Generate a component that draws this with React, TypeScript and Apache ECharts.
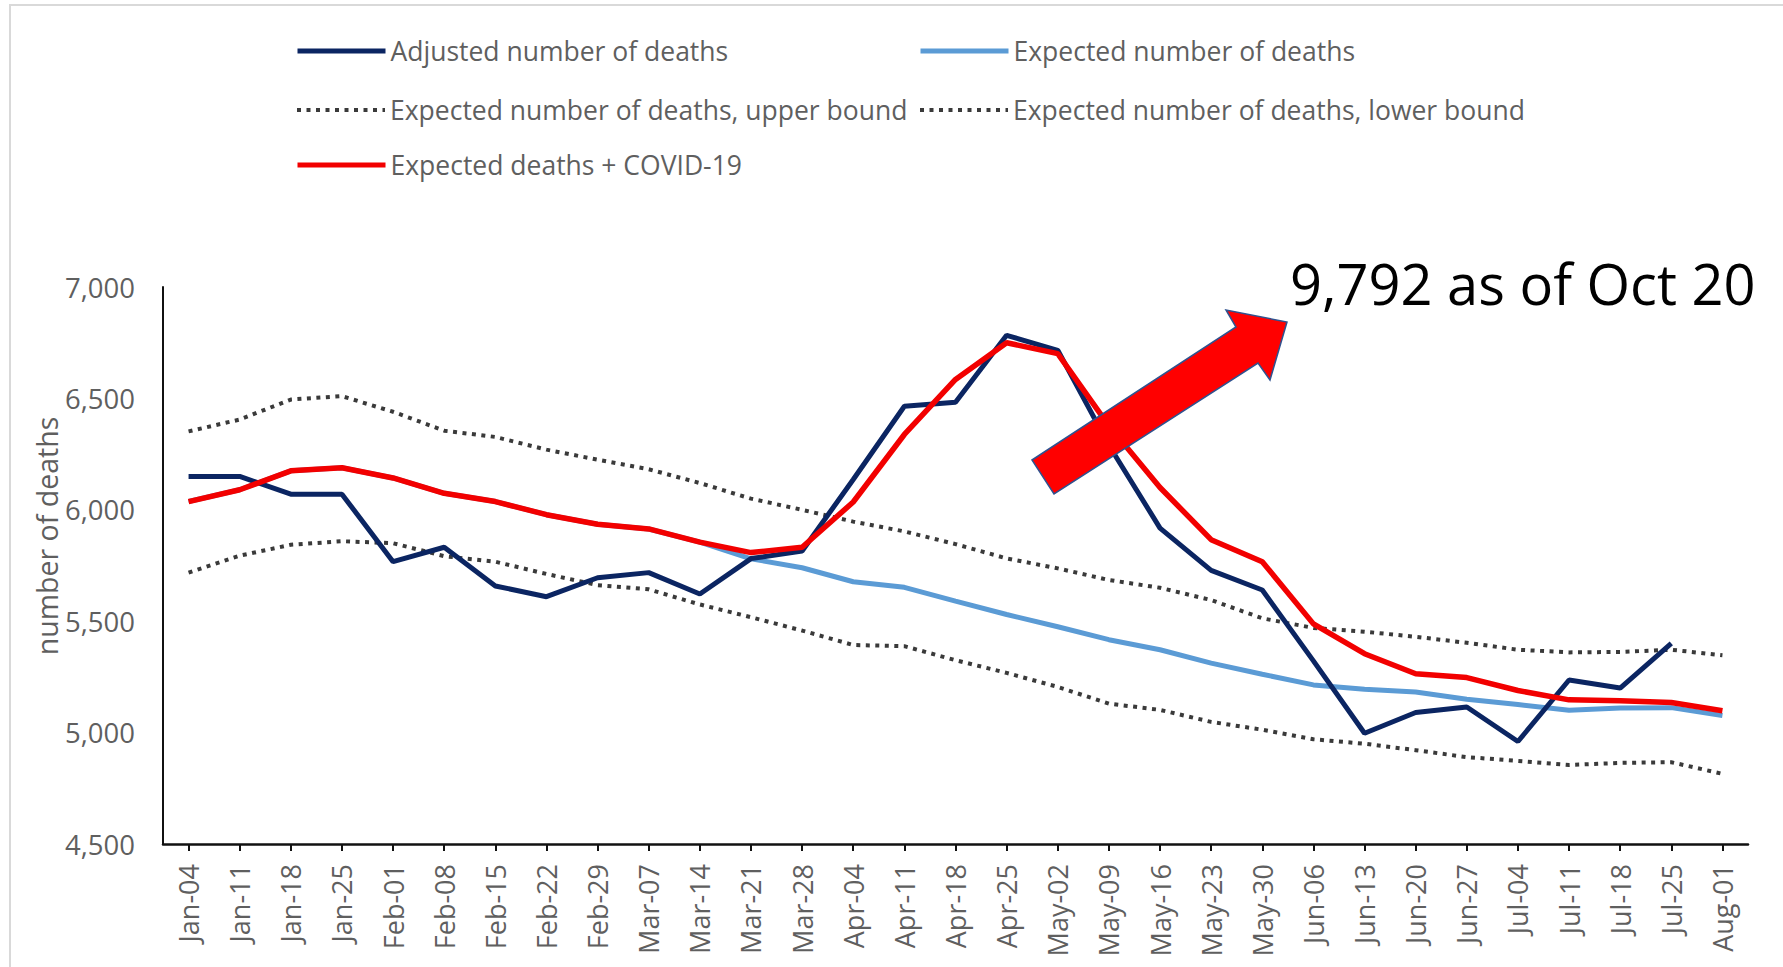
import React, { useEffect, useRef } from 'react';
import * as echarts from 'echarts';

const weeks = [
  'Jan-04', 'Jan-11', 'Jan-18', 'Jan-25', 'Feb-01', 'Feb-08', 'Feb-15', 'Feb-22', 'Feb-29',
  'Mar-07', 'Mar-14', 'Mar-21', 'Mar-28', 'Apr-04', 'Apr-11', 'Apr-18', 'Apr-25', 'May-02',
  'May-09', 'May-16', 'May-23', 'May-30', 'Jun-06', 'Jun-13', 'Jun-20', 'Jun-27', 'Jul-04',
  'Jul-11', 'Jul-18', 'Jul-25', 'Aug-01',
];

const adjusted = [
  6150, 6150, 6070, 6070, 5767, 5832, 5658, 5610, 5695, 5718, 5622, 5781, 5815, 6136, 6465,
  6483, 6783, 6716, 6290, 5918, 5728, 5640, 5322, 4997, 5090, 5115, 4960, 5236, 5200, 5400, null,
];

const expected = [
  6037, 6090, 6175, 6189, 6143, 6074, 6037, 5978, 5935, 5914, 5855, 5780, 5740, 5677, 5652,
  5590, 5530, 5475, 5417, 5372, 5312, 5262, 5214, 5195, 5182, 5150, 5126, 5100, 5110, 5112, 5077,
];

const upperBound = [
  6352, 6405, 6495, 6510, 6440, 6355, 6327, 6270, 6225, 6182, 6120, 6050, 6000, 5947, 5903,
  5846, 5782, 5737, 5685, 5650, 5595, 5513, 5470, 5453, 5430, 5403, 5372, 5360, 5362, 5372, 5347,
];

const lowerBound = [
  5718, 5794, 5843, 5859, 5850, 5792, 5767, 5712, 5662, 5643, 5575, 5518, 5458, 5393, 5388,
  5325, 5268, 5205, 5130, 5102, 5048, 5013, 4970, 4950, 4921, 4890, 4873, 4855, 4864, 4867, 4815,
];

const expectedCovid = [
  6037, 6090, 6175, 6189, 6143, 6074, 6037, 5978, 5935, 5914, 5855, 5808, 5832, 6035, 6338,
  6585, 6750, 6701, 6377, 6100, 5866, 5767, 5488, 5354, 5264, 5247, 5189, 5147, 5143, 5135, 5098,
];

const seriesNames = [
  'Adjusted number of deaths',
  'Expected number of deaths',
  'Expected number of deaths, upper bound',
  'Expected number of deaths, lower bound',
  'Expected deaths + COVID-19',
];

const NAVY = '#0b2562';
const LIGHT_BLUE = '#5b9bd5';
const RED = '#f20000';
const DOT = '#3a3a3a';
const GRAY_TEXT = '#5f5f5f';
const FONT = '"Open Sans", "Noto Sans", sans-serif';

export default function App() {
  const ref = useRef<HTMLDivElement>(null);

  useEffect(() => {
    if (!ref.current) return;
    const chart = echarts.init(ref.current, null, { renderer: 'svg' });

    const legendBase = {
      orient: 'horizontal',
      padding: 0,
      itemWidth: 88,
      itemHeight: 14,
      selectedMode: false,
      itemStyle: { opacity: 0 },
      textStyle: { color: GRAY_TEXT, fontSize: 26.5, fontFamily: FONT, lineHeight: 30 },
    };

    chart.setOption({
      animation: false,
      backgroundColor: '#ffffff',
      textStyle: { fontFamily: FONT },
      grid: { left: 163, right: 35, top: 287, bottom: 123, containLabel: false },
      legend: [
        { ...legendBase, data: [seriesNames[0]], left: 295, top: 36, lineStyle: { width: 5 } },
        { ...legendBase, data: [seriesNames[1]], left: 918, top: 36, lineStyle: { width: 5 } },
        { ...legendBase, data: [seriesNames[2]], left: 295, top: 95, lineStyle: { width: 4 } },
        { ...legendBase, data: [seriesNames[3]], left: 918, top: 95, lineStyle: { width: 4 } },
        { ...legendBase, data: [seriesNames[4]], left: 295, top: 150, lineStyle: { width: 5 } },
      ],
      xAxis: {
        type: 'category',
        data: weeks,
        boundaryGap: true,
        axisLine: { show: true, lineStyle: { color: '#111', width: 2.5 } },
        axisTick: { show: true, alignWithLabel: true, length: 7, lineStyle: { color: '#111', width: 2 } },
        axisLabel: {
          interval: 0,
          rotate: 90,
          margin: 20,
          color: GRAY_TEXT,
          fontSize: 27,
          fontFamily: FONT,
        },
        splitLine: { show: false },
      },
      yAxis: {
        type: 'value',
        min: 4500,
        max: 7000,
        interval: 500,
        axisLine: { show: true, lineStyle: { color: '#111', width: 2 } },
        axisTick: { show: false },
        splitLine: { show: false },
        axisLabel: {
          margin: 28,
          color: GRAY_TEXT,
          fontSize: 27.5,
          fontFamily: FONT,
          formatter: (v: number) => v.toLocaleString('en-US'),
        },
      },
      series: [
        {
          name: seriesNames[0],
          type: 'line',
          data: adjusted,
          symbol: 'none',
          lineStyle: { color: NAVY, width: 5 },
          itemStyle: { color: NAVY },
          z: 3,
        },
        {
          name: seriesNames[1],
          type: 'line',
          data: expected,
          symbol: 'none',
          lineStyle: { color: LIGHT_BLUE, width: 5 },
          itemStyle: { color: LIGHT_BLUE },
          z: 2,
        },
        {
          name: seriesNames[2],
          type: 'line',
          data: upperBound,
          symbol: 'none',
          lineStyle: { color: DOT, width: 4, type: [4, 5.5] },
          itemStyle: { color: DOT },
          z: 2,
        },
        {
          name: seriesNames[3],
          type: 'line',
          data: lowerBound,
          symbol: 'none',
          lineStyle: { color: DOT, width: 4, type: [4, 5.5] },
          itemStyle: { color: DOT },
          z: 2,
        },
        {
          name: seriesNames[4],
          type: 'line',
          data: expectedCovid,
          symbol: 'none',
          lineStyle: { color: RED, width: 5.5 },
          itemStyle: { color: RED },
          z: 4,
        },
      ],
      graphic: [
        {
          type: 'rect',
          z: -10,
          silent: true,
          shape: { x: 10, y: 5, width: 1800, height: 1000 },
          style: { fill: 'none', stroke: '#d9d9d9', lineWidth: 2 },
        },
        {
          type: 'text',
          x: 47,
          y: 536,
          rotation: Math.PI / 2,
          silent: true,
          style: {
            text: 'number of deaths',
            fill: GRAY_TEXT,
            fontSize: 28.5,
            fontFamily: FONT,
            align: 'center',
            verticalAlign: 'middle',
          },
        },
        {
          type: 'polygon',
          z: 100,
          silent: true,
          shape: {
            points: [
              [1032, 460], [1236, 327], [1226, 310], [1287, 322],
              [1270, 380], [1258, 363], [1054, 494],
            ],
          },
          style: { fill: '#ff0000', stroke: '#2f528f', lineWidth: 1.5 },
        },
        {
          type: 'text',
          z: 100,
          x: 1290,
          y: 283,
          silent: true,
          style: {
            text: '9,792 as of Oct 20',
            fill: '#000000',
            fontSize: 56,
            fontFamily: FONT,
            align: 'left',
            verticalAlign: 'middle',
          },
        },
      ],
    });

    return () => chart.dispose();
  }, []);

  return (
    <div
      ref={ref}
      style={{ position: 'fixed', left: 0, top: 0, width: 1783, height: 967, background: '#ffffff' }}
    />
  );
}
